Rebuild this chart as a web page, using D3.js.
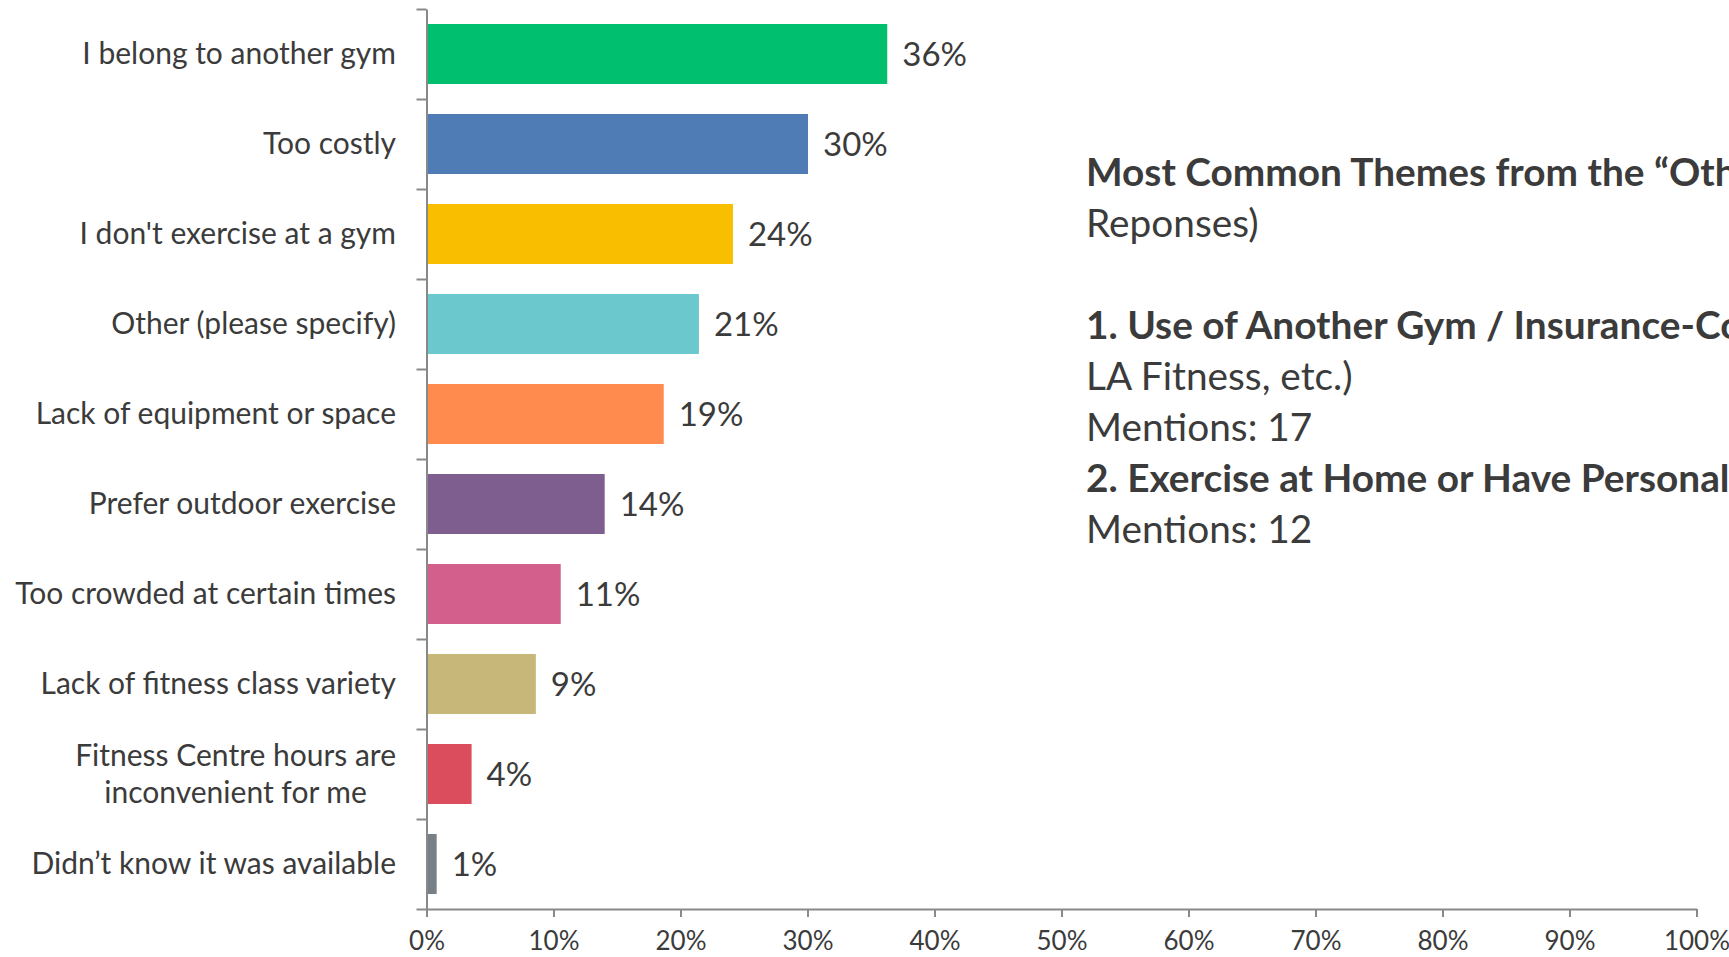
<!DOCTYPE html>
<html>
<head>
<meta charset="utf-8">
<script src="https://cdn.jsdelivr.net/npm/d3@7"></script>
<style>
  html, body { margin: 0; padding: 0; background: #fff; overflow: hidden; }
  svg { display: block; }
  text { font-family: Lato, "Open Sans", "Noto Sans", sans-serif; fill: #3b3b3b; }
</style>
</head>
<body>
<svg id="chart" width="1729" height="957"></svg>
<script>
// Reasons for not using the fitness centre (share of respondents)
const categories = [
  "I belong to another gym",
  "Too costly",
  "I don't exercise at a gym",
  "Other (please specify)",
  "Lack of equipment or space",
  "Prefer outdoor exercise",
  "Too crowded at certain times",
  "Lack of fitness class variety",
  "Fitness Centre hours are\ninconvenient for me",
  "Didn\u2019t know it was available"
];
const shares = [0.3628, 0.3004, 0.2413, 0.2145, 0.1868, 0.1403, 0.1057, 0.0861, 0.0355, 0.0080];
const barColors = ["#00BF6F", "#507CB6", "#F9BE00", "#6BC8CD", "#FF8B4F",
                   "#7E5E8F", "#D35F8D", "#C7B879", "#DB4D5C", "#768086"];
const xTickValues = [0, 0.1, 0.2, 0.3, 0.4, 0.5, 0.6, 0.7, 0.8, 0.9, 1.0];

// Side note summarising the open-ended "Other" answers
const noteLines = [
  { text: "Most Common Themes from the \u201COther\u201D Category (Based on 35", bold: true },
  { text: "Reponses)", bold: false },
  { text: "", bold: false },
  { text: "1. Use of Another Gym / Insurance-Covered Membership (YMCA,", bold: true },
  { text: "LA Fitness, etc.)", bold: false },
  { text: "Mentions: 17", bold: false },
  { text: "2. Exercise at Home or Have Personal Equipment", bold: true },
  { text: "Mentions: 12", bold: false }
];

const svg = d3.select("#chart");
const axisColor = "#898989";

const plotLeft = 426.5, plotRight = 1696.5, plotTop = 9, plotBottom = 909;

const x = d3.scaleLinear().domain([0, 1]).range([plotLeft, plotRight]);
const y = d3.scaleBand().domain(categories).range([plotTop, plotBottom])
  .paddingInner(1 / 3).paddingOuter(1 / 6);

// Category boundary scale for the tick marks between bars
const yEdges = d3.scaleLinear().domain([0, categories.length]).range([plotTop, plotBottom]);

// Bars
svg.append("g").selectAll("rect")
  .data(categories)
  .join("rect")
  .attr("x", x(0))
  .attr("y", d => y(d))
  .attr("width", (d, i) => x(shares[i]) - x(0))
  .attr("height", y.bandwidth())
  .attr("fill", (d, i) => barColors[i]);

// Vertical (category) axis
const yAxis = svg.append("g")
  .attr("transform", `translate(${plotLeft},0)`)
  .call(d3.axisLeft(yEdges).tickValues(d3.range(0, categories.length + 1))
    .tickFormat("").tickSize(10).tickSizeOuter(0));

// Horizontal (percentage) axis
const xAxis = svg.append("g")
  .attr("transform", `translate(0,${plotBottom})`)
  .call(d3.axisBottom(x).tickValues(xTickValues).tickFormat(d3.format(".0%"))
    .tickSize(8).tickSizeOuter(0));

[yAxis, xAxis].forEach(g => {
  g.select(".domain").attr("stroke", axisColor).attr("stroke-width", 2);
  g.selectAll(".tick line").attr("stroke", axisColor).attr("stroke-width", 2);
});
xAxis.selectAll(".tick text")
  .attr("y", 41).attr("dy", null)
  .style("font-size", "26px").style("font-family", "Lato, 'Open Sans', sans-serif")
  .attr("fill", "#3b3b3b");

// Category labels, right-aligned against the axis; wrapped labels are centred on each other
const labelRight = 396;
const labelSize = 30;
const lineGap = 37;
const labels = svg.append("g").attr("font-size", labelSize);
categories.forEach(c => {
  const lines = c.split("\n");
  const cy = y(c) + y.bandwidth() / 2;
  const t = labels.append("text").attr("text-anchor", "end");
  lines.forEach((ln, k) => {
    t.append("tspan")
      .attr("x", labelRight)
      .attr("y", cy + 10 + (k - (lines.length - 1) / 2) * lineGap)
      .text(ln);
  });
  if (lines.length > 1) {
    const widths = t.selectAll("tspan").nodes().map(n => n.getComputedTextLength());
    const maxW = d3.max(widths);
    t.attr("text-anchor", "middle");
    t.selectAll("tspan").attr("x", labelRight - maxW / 2);
  }
});

// Value labels at the end of each bar
svg.append("g").selectAll("text")
  .data(categories)
  .join("text")
  .attr("x", (d, i) => x(shares[i]) + 15)
  .attr("y", d => y(d) + y.bandwidth() / 2 + 11.5)
  .attr("font-size", 33)
  .text((d, i) => d3.format(".0%")(shares[i]));

// Side note
const note = svg.append("text").attr("font-size", 38.8);
noteLines.forEach((ln, k) => {
  note.append("tspan")
    .attr("x", 1086)
    .attr("y", 186 + k * 51)
    .attr("font-weight", ln.bold ? 700 : 400)
    .text(ln.text || "\u00A0");
});
</script>
</body>
</html>
